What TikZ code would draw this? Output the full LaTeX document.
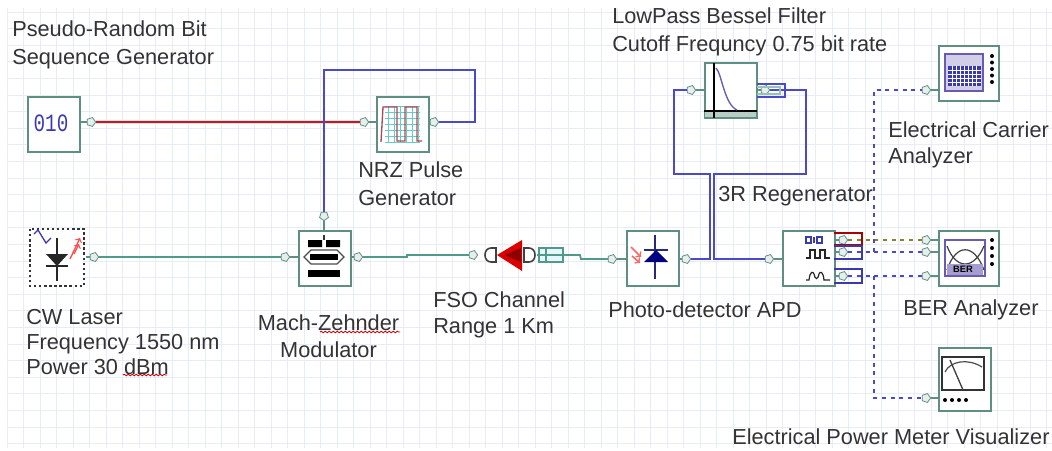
\documentclass[tikz,border=0pt]{standalone}
\usepackage{fontspec}
\setmainfont{Liberation Sans}
\usetikzlibrary{shapes.geometric,decorations.pathmorphing}
\definecolor{boxc}{HTML}{5E8F80}
\definecolor{wireg}{HTML}{4F9A8A}
\definecolor{wirer}{HTML}{9A2A38}
\definecolor{wireb}{HTML}{4A4AC8}
\definecolor{gridc}{HTML}{E8EBF8}
\definecolor{txt}{HTML}{333333}
\definecolor{icon}{HTML}{3A3AB0}
\definecolor{scr}{HTML}{6A5AB0}
\tikzset{
 blk/.style={draw=boxc,line width=1.6pt,fill=white,minimum width=39pt,minimum height=41pt,inner sep=0pt,anchor=north west},
 lab/.style={anchor=west,inner sep=0pt,align=left,text=txt,font=\fontsize{16.3}{19.5}\selectfont},
 portp/.style={regular polygon,regular polygon sides=5,shape border rotate=-90,draw=boxc,fill=boxc!15,line width=.6pt,inner sep=0pt,minimum size=7pt},
 stub/.style={draw=boxc,line width=1pt},
 gw/.style={wireg,line width=1.3pt},
 rw/.style={wirer,line width=.9pt},
 bw/.style={wireb,line width=1.2pt},
 dw/.style={wireb,line width=1.2pt,dash pattern=on 3pt off 3.5pt},
 squig/.style={red!80!black,line width=.6pt,decorate,decoration={snake,amplitude=.6pt,segment length=3pt}}
}
\begin{document}
\begin{tikzpicture}[x=0.75pt,y=-0.75pt]
\useasboundingbox (0,0) rectangle (1052,450);
\fill[white] (0,0) rectangle (1052,450);
% grid
\foreach \g in {0,...,63} \draw[gridc,line width=.6pt] ({7+\g*16.5},8) -- ({7+\g*16.5},448);
\foreach \g in {0,...,26} \draw[gridc,line width=.6pt] (7,{12+\g*16.6}) -- (1052,{12+\g*16.6});

% ---- ports
\node[portp] (pA) at (91,122) {};
\node[portp] (pB) at (364,122) {};
\node[portp] (pC) at (434,122) {};
\node[portp,shape border rotate=180] (pD) at (324,216) {};
\node[portp] (pE) at (94,257) {};
\node[portp] (pF) at (285,257) {};
\node[portp] (pG) at (358,257) {};
\node[portp] (pH) at (473,255) {};
\node[portp] (pJ) at (612,259) {};
\node[portp] (pK) at (686,259) {};
\node[portp] (pL) at (691,90) {};
\node[portp] (pM) at (765,90) {};
\node[portp] (pN) at (769,259) {};
\node[portp] (pO) at (843,240) {};
\node[portp] (pP) at (843,252) {};
\node[portp] (pQ) at (843,276) {};
\node[portp] (pR) at (926,90) {};
\node[portp] (pS) at (926,240) {};
\node[portp] (pT) at (926,252) {};
\node[portp] (pU) at (926,276) {};
\node[portp] (pV) at (926,398) {};
\coordinate (fsoOut) at (563,255);

% ---- wires
\draw[red!18,line width=3.4pt] (pA) -- (pB);
\draw[rw] (pA) -- (pB);
\draw[bw] (pC) -- (475,122) -- (475,70) -- (324,70) -- (pD);
\draw[gw] (pE) -- (pF);
\draw[gw] (pG) -- (407,257) -- (407,255) -- (pH);
\draw[gw] (fsoOut) -- (580,255) -- (581,259) -- (pJ);
\draw[bw] (pK) -- (710,259) -- (710,174) -- (674,174) -- (674,90) -- (pL);
\draw[bw] (pM) -- (806,90) -- (806,174) -- (714,174) -- (714,259) -- (pN);
\draw[dw,olive!70!wireb] (pO) -- (pS);
\draw[dw] (pP) -- (pT);
\draw[dw] (pQ) -- (pU);
\draw[dw] (874,252) -- (874,90) -- (pR);
\draw[dw] (874,276) -- (874,398) -- (pV);

% ---- blocks
\node[blk] (prbs) at (27,96) {};
\node[blk] (nrz) at (376,96) {};
\node[blk,draw=none] (cw) at (30,229) {};
\draw[black!80,line width=1.6pt,dash pattern=on 1.8pt off 2pt] (cw.north west) rectangle (cw.south east);
\node[blk] (mz) at (298,230) {};
\node[blk] (pd) at (626,230) {};
\node[blk] (flt) at (704,62) {};
\node[blk,minimum width=45pt] (eca) at (938,45) {};
\node[blk] (reg) at (782,230) {};
\node[blk,minimum width=45pt] (ber) at (938,230) {};
\node[blk,minimum height=47pt] (pwr) at (938,347) {};

% port stubs
\draw[stub] (pA) -- (80,122) (pB) -- (376,122) (pC) -- (429,122) (pD) -- (324,230);
\draw[stub] (pE) -- (86,257) (pF) -- (298,257) (pG) -- (350,257);
\draw[stub] (pJ) -- (626,259) (pK) -- (678,259) (pL) -- (704,90) (pM) -- (757,90);
\draw[stub] (pN) -- (782,259) (pO) -- (834,240) (pP) -- (834,252) (pQ) -- (834,276);
\draw[stub] (pR) -- (938,90) (pS) -- (938,240) (pT) -- (938,252) (pU) -- (938,276) (pV) -- (938,398);

% ---- PRBS icon
\node[text=icon,inner sep=0pt,font=\fontsize{17}{17}\fontspec{Liberation Mono}] (prbsT) at (51,123) {\scalebox{.85}[1.1]{010}};

% ---- NRZ icon
\foreach \g in {0,...,5} \draw[cyan!60!green!60,line width=.6pt] ({388+\g*6},106) -- ({388+\g*6},142);
\foreach \g in {0,...,6} \draw[cyan!60!green!60,line width=.6pt] (385,{106+\g*6}) -- (420,{106+\g*6});
\draw[wirer!85,line width=1pt] (381,142) -- (383,107) -- (397,107) -- (397,141) -- (405,141) -- (405,107) -- (417,107) -- (417,141) -- (422,141);

% ---- laser icon
\draw[icon,line width=1pt] (34,234) -- (38,230) -- (46,243) -- (51,238);
\fill[black!85] (46,254) -- (68,254) -- (57,266) -- cycle;
\draw[black!85,line width=1.2pt] (57,238) -- (57,281) (46,266) -- (68,266);
\draw[red!70,line width=1pt,->] (70,259) -- (80,238);
\draw[red!70,line width=1pt,->] (74,254) -- (79,244);

% ---- MZ icon
\fill[black] (308,240) rectangle (322,247) (326,240) rectangle (340,247);
\fill[black] (308,270) rectangle (340,277);
\draw[black!80,line width=.8pt] (324,235) -- (324,240);
\draw[black!70,line width=.9pt,fill=white] (304,257) -- (311,250) -- (337,250) -- (344,257) -- (337,264) -- (311,264) -- cycle;
\fill[black] (310,254) rectangle (338,260);

% ---- FSO channel
\draw[black!75,line width=1.2pt,fill=white] (496,248) -- (491,248) .. controls (483,248) and (483,262) .. (491,262) -- (496,262) -- cycle;
\fill[red!85!black] (497,255) -- (522,240) -- (522,271) -- cycle;
\fill[red!55!black] (505,255) -- (521,248) -- (521,262) -- cycle;
\draw[black!75,line width=1.2pt,fill=white] (524,248) -- (529,248) .. controls (537,248) and (537,262) .. (529,262) -- (524,262) -- cycle;
\node[draw=wireg,fill=cyan!10,line width=1pt,minimum width=18pt,minimum height=10.5pt,inner sep=0pt] (fso) at (551,255) {};
\draw[wireg,line width=.9pt] (546,248) -- (546,262);
\draw[wireg,line width=.9pt] (537,255) -- (563,255);

% ---- photodetector icon
\draw[icon!70!black,line width=1.1pt] (655,235) -- (655,279) (644,250) -- (668,250);
\fill[blue!50!black] (644,262) -- (668,262) -- (656,250) -- cycle;
\draw[red!60,line width=1.2pt,->] (631,247) -- (641,257);
\draw[red!60,line width=1.2pt,->] (632,256) -- (640,263);

% ---- filter icon
\fill[boxc!45] (705,112) rectangle (756,117);
\draw[black,line width=1pt] (704,111) -- (757,111);
\draw[black,line width=1pt] (714,63) -- (714,118);
\draw[scr,line width=1pt] (716,68) .. controls (722,74) and (724,104) .. (737,110);
\draw[wireb,line width=1.1pt] (757,84) -- (785,84) -- (785,97) -- (757,97);
\draw[wireg!60,line width=.8pt] (757,87) -- (780,87) -- (780,94) -- (757,94);

% ---- ECA icon
\fill[scr!30] (945,54) rectangle (983,91);
\draw[scr,line width=1pt] (945,54) rectangle (983,91);
\fill[icon] (948,66) rectangle (981,86);
\foreach \g in {1,...,7} \draw[white,line width=.5pt] ({948+\g*4.1},66) -- ({948+\g*4.1},86);
\foreach \g in {1,...,4} \draw[white,line width=.5pt] (948,{66+\g*4}) -- (981,{66+\g*4});
\foreach \g in {56,62.5,...,84} \fill[black] (992,\g) circle (2);

% ---- regenerator icon
\draw[icon,line width=1.8pt] (806,237) -- (811,237) -- (811,243) -- (806,243) -- cycle (814,237) -- (814,243) (817,237) -- (822,237) -- (822,243) -- (817,243) -- cycle;
\draw[black!85,line width=.9pt] (806,258) -- (810,258) -- (810,250) -- (815,250) -- (815,258) -- (820,258) -- (820,250) -- (825,250) -- (825,258) -- (830,258);
\draw[black!85,line width=.9pt] (806,280) -- (809,280) .. controls (810,271) and (813,271) .. (814,274) .. controls (815,280) and (818,280) .. (819,274) .. controls (820,271) and (823,271) .. (824,280) -- (830,280);
\draw[red!65!black,line width=1.1pt] (834,233) -- (862,233) -- (862,245) -- (834,245);
\draw[icon,line width=1.3pt] (834,246) -- (862,246) -- (862,259) -- (834,259);
\draw[icon,line width=1.1pt] (834,269) -- (862,269) -- (862,283) -- (834,283);

% ---- BER icon
\draw[black!80,line width=1.2pt,fill=white] (945,240) rectangle (985,276);
\draw[scr,line width=1.4pt] (945,240) rectangle (985,276);
\draw[black!75,line width=.9pt] (947,246) .. controls (956,270) and (974,270) .. (984,246);
\draw[black!75,line width=.9pt] (947,270) .. controls (956,243) and (974,243) .. (984,270);
\fill[scr!60] (947,264) rectangle (983,275);
\node[text=black,inner sep=0pt,font=\fontsize{7}{7}\selectfont\bfseries] (berT) at (963,269) {BER};
\foreach \g in {240,248,...,270} \fill[black] (992,\g) circle (2);

% ---- power meter icon
\draw[black!80,line width=1.3pt,fill=white] (942,357) rectangle (984,390);
\draw[black!70,line width=.9pt] (945,372) .. controls (950,361) and (968,358) .. (982,367);
\draw[black!75,line width=1pt] (950,360) -- (963,390);
\foreach \g in {945,952,959,966} \fill[black] (\g,400) circle (2);

% ---- labels
\node[lab] (l1) at (12,45) {Pseudo-Random Bit\\[1.5pt]Sequence Generator};
\node[lab] (l2) at (612,32) {LowPass Bessel Filter\\[1pt]Cutoff Frequncy 0.75 bit rate};
\node[lab] (l3) at (888,145) {Electrical Carrier\\Analyzer};
\node[lab] (l4) at (358,184) {NRZ Pulse\\[1.5pt]Generator};
\node[lab] (l5) at (718,196) {3R Regenerator};
\node[lab] (l6) at (26,342) {CW Laser\\[-.75pt]Frequency 1550 nm\\[-.75pt]Power 30 dBm};
\node[lab,align=center,anchor=center] (l7) at (328.5,336) {Mach-Zehnder\\[1pt]Modulator};
\node[lab] (l8) at (433,315) {FSO Channel\\[.5pt]Range 1 Km};
\node[lab] (l9) at (608,310) {Photo-detector APD};
\node[lab] (l10) at (903,310) {BER Analyzer};
\node[lab] (l11) at (732,437) {Electrical Power Meter Visualizer};
% spelling squiggles
\draw[squig] (123,375) -- (167,375);
\draw[squig] (320,332) -- (400,332);
\end{tikzpicture}
\end{document}
